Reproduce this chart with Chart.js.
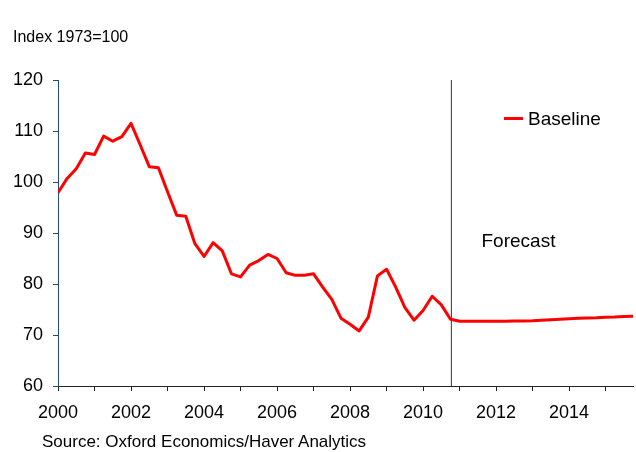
<!DOCTYPE html>
<html><head><meta charset="utf-8">
<script src="https://cdn.jsdelivr.net/npm/chart.js@4"></script>
<style>
html,body{margin:0;padding:0;background:#fff}
#wrap{position:relative;width:636px;height:452px;font-family:"Liberation Sans",Arial,sans-serif;color:#000}
#c{position:absolute;left:0;top:0}
.note{position:absolute;white-space:nowrap;line-height:18px}
</style>
</head><body>
<div id="wrap">
<canvas id="c" width="636" height="452"></canvas>
<div class="note" id="unit" style="left:13px;top:28px;font-size:16px">Index 1973=100</div>
<div class="note" id="src" style="left:42px;top:433px;font-size:17px">Source: Oxford Economics/Haver Analytics</div>
</div>
<script>
// Quarterly series, first value = 2000 Q1
const startYear = 2000;
const quartersPerYear = 4;
const seriesName = 'Baseline';
const baseline = [
  97.9, 100.7, 102.6, 105.7,   // 2000
  105.4, 109.0, 108.0, 108.9,  // 2001
  111.5, 107.3, 103.0, 102.8,  // 2002
  98.1, 93.5, 93.3, 87.9,      // 2003
  85.4, 88.1, 86.5, 82.0,      // 2004
  81.4, 83.7, 84.6, 85.8,      // 2005
  85.0, 82.2, 81.7, 81.7,      // 2006
  82.0, 79.4, 77.0, 73.3,      // 2007
  72.1, 70.8, 73.5, 81.6,      // 2008
  82.9, 79.4, 75.4, 72.9,      // 2009
  74.8, 77.6, 75.9, 73.1,      // 2010
  72.7, 72.7, 72.7, 72.7,      // 2011
  72.7, 72.7, 72.75, 72.75,    // 2012
  72.8, 72.9, 73.0, 73.1,      // 2013
  73.2, 73.3, 73.35, 73.4,     // 2014
  73.5, 73.55, 73.65, 73.7     // 2015
];
const tickYears = [2000,2001,2002,2003,2004,2005,2006,2007,2008,2009,2010,2011,2012,2013,2014,2015];
const labelYears = [2000,2002,2004,2006,2008,2010,2012,2014];
const yTicks = [60,70,80,90,100,110,120];
const forecastStartQuarter = 43.1;
const forecastLabel = 'Forecast';
const forecastLabelAt = {x: 46.4, y: 88.2};

const FONT = '"Liberation Sans", Arial, sans-serif';
const RED = '#ff0000';
const Y_AXIS_COLOR = '#1f4e79';

const overlay = {
  id: 'overlay',
  afterDraw(chart) {
    const ctx = chart.ctx;
    const xs = chart.scales.x, ys = chart.scales.y;
    ctx.save();
    // legend
    ctx.strokeStyle = RED; ctx.lineWidth = 3;
    ctx.beginPath(); ctx.moveTo(504, 118.5); ctx.lineTo(523, 118.5); ctx.stroke();
    ctx.fillStyle = '#000';
    ctx.font = '19px ' + FONT;
    ctx.textBaseline = 'middle'; ctx.textAlign = 'left';
    ctx.fillText(seriesName, 528, 119.5);
    // forecast label
    ctx.fillText(forecastLabel, xs.getPixelForValue(forecastLabelAt.x), ys.getPixelForValue(forecastLabelAt.y));
    ctx.restore();
  }
};

new Chart(document.getElementById('c'), {
  type: 'line',
  data: {
    datasets: [
      {
        label: seriesName,
        data: baseline.map((v, i) => ({x: i, y: v})),
        borderColor: RED, backgroundColor: RED,
        borderWidth: 3, pointRadius: 0, tension: 0, fill: false,
        borderJoinStyle: 'round'
      },
      {
        label: 'forecast-start',
        data: [{x: forecastStartQuarter, y: yTicks[0]}, {x: forecastStartQuarter, y: yTicks[yTicks.length - 1]}],
        borderColor: '#333333', borderWidth: 1, pointRadius: 0, fill: false
      }
    ]
  },
  options: {
    responsive: false,
    animation: false,
    devicePixelRatio: 1,
    layout: {padding: {top: 80, right: 3, left: 0, bottom: 0}},
    plugins: {legend: {display: false}, tooltip: {enabled: false}, title: {display: false}},
    scales: {
      x: {
        type: 'linear',
        min: 0,
        max: baseline.length - 1,
        afterBuildTicks: s => { s.ticks = tickYears.map(y => ({value: (y - startYear) * quartersPerYear})); },
        afterFit: s => { s.height = 66; },
        ticks: {
          autoSkip: false, maxRotation: 0, minRotation: 0,
          color: '#000', font: {family: FONT, size: 18}, padding: 11,
          callback: v => {
            const yr = startYear + v / quartersPerYear;
            return labelYears.includes(yr) ? String(yr) : '';
          }
        },
        grid: {display: true, drawOnChartArea: false, drawTicks: true, tickLength: 5, color: '#222'},
        border: {display: true, color: '#222', width: 1}
      },
      y: {
        type: 'linear',
        min: yTicks[0],
        max: yTicks[yTicks.length - 1],
        afterBuildTicks: s => { s.ticks = yTicks.map(v => ({value: v})); },
        afterFit: s => { s.width = 58; },
        ticks: {color: '#000', font: {family: FONT, size: 18}, padding: 10},
        grid: {display: true, drawOnChartArea: false, drawTicks: true, tickLength: 5, color: Y_AXIS_COLOR},
        border: {display: true, color: Y_AXIS_COLOR, width: 1}
      }
    }
  },
  plugins: [overlay]
});
</script>
</body></html>
